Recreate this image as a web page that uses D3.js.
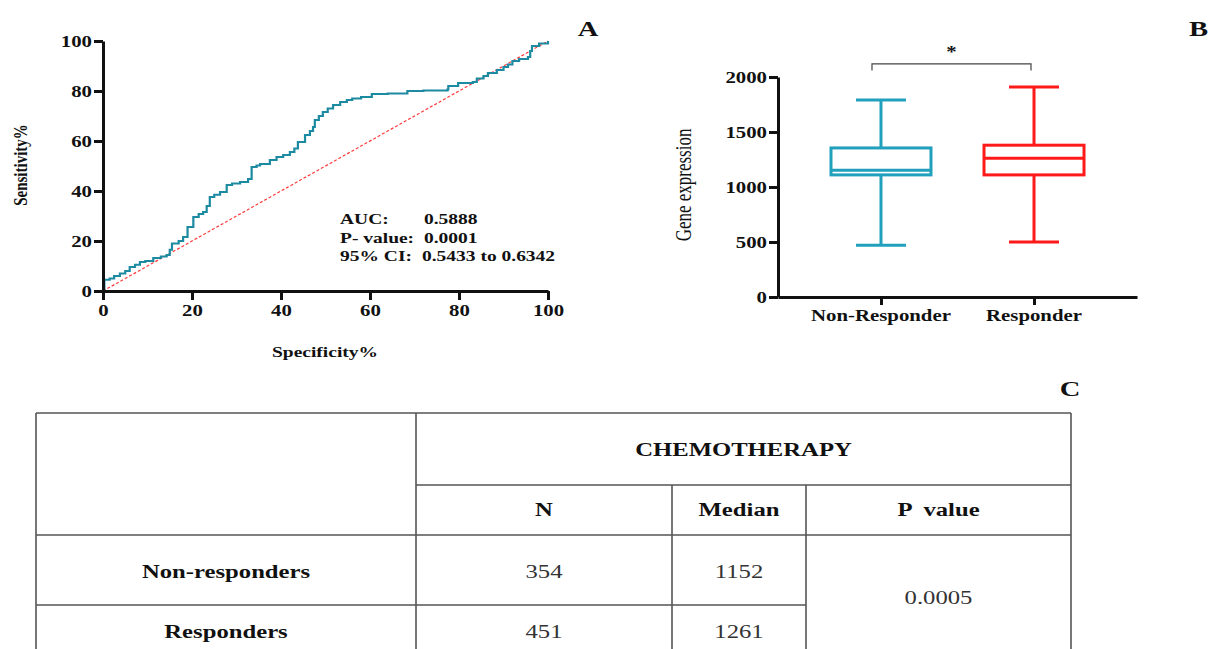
<!DOCTYPE html>
<html>
<head>
<meta charset="utf-8">
<script src="https://cdn.jsdelivr.net/npm/d3@7"></script>
<style>
  html, body { margin: 0; padding: 0; background: #fff; }
  svg text { font-family: "Liberation Serif", "Times New Roman", serif; white-space: pre; }
</style>
</head>
<body>
<svg id="chart" width="1208" height="649"></svg>
<script>
// ---------------- DATA ----------------
// Panel A: ROC curve (x = Specificity%, y = Sensitivity%)
const rocSpec = [0, 0.3, 1.5, 2.5, 3.8, 5, 6, 7.2, 8.3, 9.5, 11.3, 13, 14.3, 15, 15.5, 17, 18, 19, 20.3, 21.5, 22.5, 23.3, 24, 25, 26.3, 27.8, 29, 30.8, 32.6, 33.4, 34.5, 35.3, 37.5, 39, 40.5, 42, 43, 43.8, 45.4, 46.5, 47.2, 47.6, 48.5, 49.4, 50.5, 51.7, 53.3, 54.8, 56, 58, 60.4, 64, 68.4, 72, 77.4, 77.6, 79.8, 83.1, 84, 85.5, 86.5, 88.5, 90, 91, 92, 93.5, 95.5, 96, 96.4, 98, 100];
const rocSens = [0, 4.5, 5, 6, 7, 8, 9.6, 10.5, 11.6, 12, 13.2, 13.8, 14.4, 16.5, 19, 20, 21.6, 25.6, 29.6, 30.8, 31.6, 34, 37.6, 38.5, 39.6, 42.4, 43, 43.6, 44.8, 49.6, 50.2, 50.8, 52.4, 53.6, 54.4, 55.6, 57, 59.6, 62.4, 64, 65.6, 68.4, 70, 71.6, 73, 74.4, 75.6, 76.4, 77, 77.6, 78.8, 79, 80, 80.2, 80.6, 82, 83.2, 83.6, 85, 86, 87.2, 88.4, 89.6, 90.6, 92, 92.8, 93.6, 96, 98, 99, 100];
const rocTicks = [0, 20, 40, 60, 80, 100];
const rocStatsLabels = ["AUC:", "P- value:", "95% CI:"];
const rocStatsValues = ["0.5888", "0.0001", "0.5433 to 0.6342"];

// Panel B: box plot
const boxGroups = ["Non-Responder", "Responder"];
const boxMin    = [470, 500];
const boxQ1     = [1110, 1110];
const boxMedian = [1152, 1261];
const boxQ3     = [1355, 1380];
const boxMax    = [1790, 1910];
const boxTicks  = [0, 500, 1000, 1500, 2000];
const sigLabel  = "*";

// Panel C: table
const tableTitle   = "CHEMOTHERAPY";
const tableHeaders = ["N", "Median", "P  value"];
const tableRows    = ["Non-responders", "Responders"];
const tableN       = [354, 451];
const tableMedian  = [1152, 1261];
const tablePValue  = "0.0005";

// ---------------- DRAW ----------------
const SX = 1.3; // horizontal stretch of the original figure
const svg = d3.select("#chart");
svg.append("rect").attr("width", 1208).attr("height", 649).attr("fill", "#fff");

function txt(g, x, y, s, o = {}) {
  return g.append("text")
    .attr("transform", `translate(${x},${y}) scale(${SX},1)` + (o.rotate ? ` rotate(${o.rotate})` : ""))
    .attr("text-anchor", o.anchor || "start")
    .attr("font-size", o.size || 16)
    .attr("font-weight", o.weight || "bold")
    .attr("fill", o.fill || "#111")
    .text(s);
}
function styleAxis(g, size) {
  g.select(".domain").attr("stroke", "#111").attr("stroke-width", 3);
  g.selectAll(".tick line").attr("stroke", "#111").attr("stroke-width", 3);
  g.selectAll(".tick text")
    .attr("font-family", "Liberation Serif, serif")
    .attr("font-size", size).attr("font-weight", "bold").attr("fill", "#111")
    .each(function () {
      const t = d3.select(this);
      const xv = +t.attr("x") || 0;
      t.attr("x", xv / SX).attr("transform", `scale(${SX},1)`);
    });
}

// ===== Panel A =====
const xA = d3.scaleLinear().domain([0, 100]).range([103, 548]);
const yA = d3.scaleLinear().domain([0, 100]).range([291, 41]);
const gA = svg.append("g");

// reference diagonal
gA.append("line")
  .attr("x1", xA(0)).attr("y1", yA(0)).attr("x2", xA(100)).attr("y2", yA(100))
  .attr("stroke", "#ff3b3b").attr("stroke-width", 1.2).attr("stroke-dasharray", "3,2");

const rocData = rocSpec.map((s, i) => [s, rocSens[i]]);
gA.append("path")
  .datum(rocData)
  .attr("fill", "none").attr("stroke", "#1c8aa0").attr("stroke-width", 2.2)
  .attr("d", d3.line().x(d => xA(d[0])).y(d => yA(d[1])).curve(d3.curveStepAfter));

const axAy = gA.append("g").attr("transform", `translate(${xA(0)},0)`)
  .call(d3.axisLeft(yA).tickValues(rocTicks).tickSize(9).tickSizeOuter(0).tickPadding(2));
styleAxis(axAy, 16);
const axAx = gA.append("g").attr("transform", `translate(0,${yA(0)})`)
  .call(d3.axisBottom(xA).tickValues(rocTicks).tickSize(9).tickSizeOuter(0).tickPadding(5));
styleAxis(axAx, 16);

txt(gA, 20, 165, "Sensitivity%", { anchor: "middle", size: 15, rotate: -90 }).attr("dy", "0.35em");
txt(gA, 325, 357, "Specificity%", { anchor: "middle", size: 15 });
rocStatsLabels.forEach((l, i) => {
  txt(gA, 340, 224 + i * 18.5, l, { size: 15 });
  txt(gA, i === 2 ? 422 : 424, 224 + i * 18.5, rocStatsValues[i], { size: 15 });
});
txt(gA, 588, 36, "A", { anchor: "middle", size: 22 });

// ===== Panel B =====
const xB = d3.scalePoint().domain(boxGroups).range([778, 1137]).padding(0.673);
const yB = d3.scaleLinear().domain([0, 2000]).range([297, 77]);
const gB = svg.append("g");
const boxColors = ["#21a0bd", "#ff1a1a"];
const boxW = 100, capW = 50;

boxGroups.forEach((g, i) => {
  const cx = xB(g), c = boxColors[i];
  const bg = gB.append("g").attr("stroke", c).attr("stroke-width", 3).attr("fill", "none");
  bg.append("line").attr("x1", cx).attr("x2", cx).attr("y1", yB(boxMax[i])).attr("y2", yB(boxQ3[i]));
  bg.append("line").attr("x1", cx).attr("x2", cx).attr("y1", yB(boxQ1[i])).attr("y2", yB(boxMin[i]));
  bg.append("line").attr("x1", cx - capW / 2).attr("x2", cx + capW / 2).attr("y1", yB(boxMax[i])).attr("y2", yB(boxMax[i]));
  bg.append("line").attr("x1", cx - capW / 2).attr("x2", cx + capW / 2).attr("y1", yB(boxMin[i])).attr("y2", yB(boxMin[i]));
  bg.append("rect").attr("x", cx - boxW / 2).attr("width", boxW)
    .attr("y", yB(boxQ3[i])).attr("height", yB(boxQ1[i]) - yB(boxQ3[i]));
  bg.append("line").attr("x1", cx - boxW / 2).attr("x2", cx + boxW / 2).attr("y1", yB(boxMedian[i])).attr("y2", yB(boxMedian[i]));
});

const axBy = gB.append("g").attr("transform", `translate(778,0)`)
  .call(d3.axisLeft(yB).tickValues(boxTicks).tickFormat(d3.format("d")).tickSize(9).tickSizeOuter(0).tickPadding(2));
styleAxis(axBy, 16);
const axBx = gB.append("g").attr("transform", `translate(0,${yB(0)})`)
  .call(d3.axisBottom(xB).tickSize(8).tickSizeOuter(0).tickPadding(6));
styleAxis(axBx, 16);
axBx.selectAll(".tick text").remove();
boxGroups.forEach(g => txt(gB, xB(g), 321, g, { anchor: "middle", size: 16 }));

txt(gB, 683, 185, "Gene expression", { anchor: "middle", size: 17, weight: "normal", rotate: -90 }).attr("dy", "0.35em");

// significance bracket
const bx1 = xB(boxGroups[0]) - 9, bx2 = xB(boxGroups[1]) - 3;
gB.append("path")
  .attr("d", `M${bx1},${yB(2060)}V${yB(2120)}H${bx2}V${yB(2060)}`)
  .attr("fill", "none").attr("stroke", "#444").attr("stroke-width", 1.2);
txt(gB, (bx1 + bx2) / 2, yB(2185), sigLabel, { anchor: "middle", size: 16 });
txt(gB, 1189, 36, "B", { size: 22 });

// ===== Panel C: table =====
const gC = svg.append("g");
const colX = [36, 416, 672, 806, 1071];
const rowY = [413, 485, 535, 605, 680];
const lineC = "#555";
function hl(x1, x2, y) { gC.append("line").attr("x1", x1).attr("x2", x2).attr("y1", y).attr("y2", y).attr("stroke", lineC).attr("stroke-width", 1.6); }
function vl(x, y1, y2) { gC.append("line").attr("x1", x).attr("x2", x).attr("y1", y1).attr("y2", y2).attr("stroke", lineC).attr("stroke-width", 1.6); }
hl(colX[0], colX[4], rowY[0]);
hl(colX[1], colX[4], rowY[1]);
hl(colX[0], colX[4], rowY[2]);
hl(colX[0], colX[3], rowY[3]);
vl(colX[0], rowY[0], rowY[4]);
vl(colX[1], rowY[0], rowY[4]);
vl(colX[2], rowY[1], rowY[4]);
vl(colX[3], rowY[1], rowY[4]);
vl(colX[4], rowY[0], rowY[4]);

const mid = (a, b) => (a + b) / 2;
const TS = 19;
txt(gC, mid(colX[1], colX[4]), 456, tableTitle, { anchor: "middle", size: TS });
tableHeaders.forEach((h, i) => txt(gC, mid(colX[i + 1], colX[i + 2]), 516, h, { anchor: "middle", size: TS }));
const rowBase = [578, 638];
tableRows.forEach((r, i) => {
  txt(gC, mid(colX[0], colX[1]), rowBase[i], r, { anchor: "middle", size: TS });
  txt(gC, mid(colX[1], colX[2]), rowBase[i], String(tableN[i]), { anchor: "middle", size: TS, weight: "normal", fill: "#333" });
  txt(gC, mid(colX[2], colX[3]), rowBase[i], String(tableMedian[i]), { anchor: "middle", size: TS, weight: "normal", fill: "#333" });
});
txt(gC, mid(colX[3], colX[4]), 604, tablePValue, { anchor: "middle", size: TS, weight: "normal", fill: "#333" });
txt(gC, 1070, 396, "C", { anchor: "middle", size: 22 });
</script>
</body>
</html>
